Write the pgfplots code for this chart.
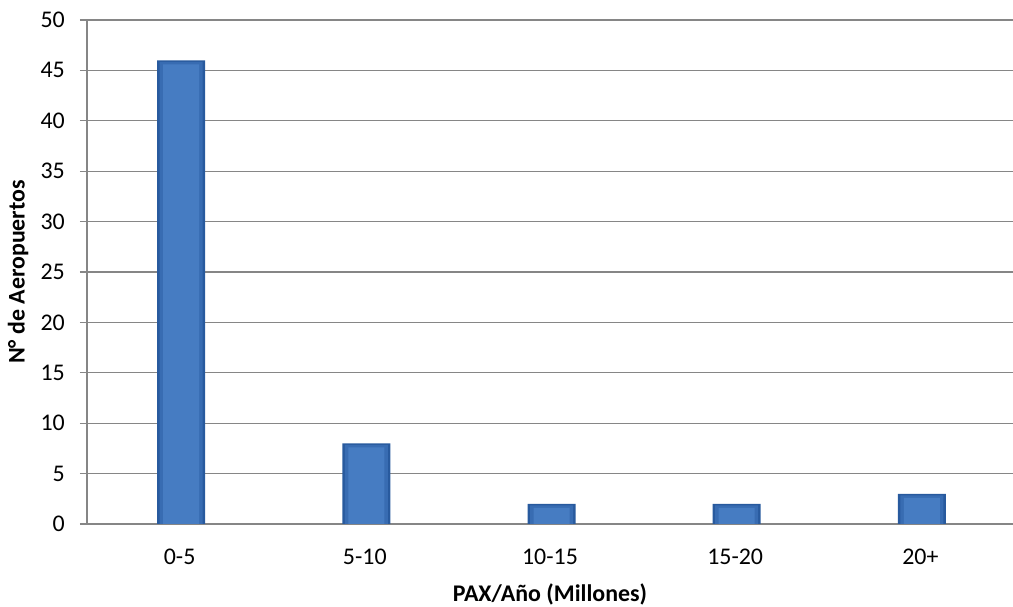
\documentclass[border=0pt]{standalone}
\usepackage{pgfplots}
\pgfplotsset{compat=1.18}
\usepackage{fontspec}
\setmainfont{Carlito}
\definecolor{gridgray}{RGB}{134,134,134}
\definecolor{bardark}{RGB}{40,90,158}
\definecolor{barmed}{RGB}{56,108,178}
\definecolor{barlight}{RGB}{70,124,194}
\newcommand{\cf}{\fontsize{24}{28}\selectfont}
\begin{document}
\begin{tikzpicture}
\useasboundingbox (0,0) rectangle (1013bp,607bp);
\begin{axis}[
  at={(87bp,83bp)}, anchor=south west,
  scale only axis,
  width=926bp, height=504bp,
  xmin=-0.5, xmax=4.5,
  ymin=0, ymax=50,
  ytick={0,5,...,50},
  xtick={0,1,2,3,4},
  xticklabels={{\cf 0-5},{\cf 5-10},{\cf 10-15},{\cf 15-20},{\cf 20+}},
  yticklabel={\cf\pgfmathprintnumber{\tick}},
  axis x line*=bottom, axis y line*=left,
  axis line style={gridgray, line width=1.2bp, -},
  ymajorgrids,
  major grid style={gridgray, line width=1.2bp},
  major tick length=7bp,
  ytick style={gridgray, line width=1.2bp},
  xtick style={draw=none},
  tick align=outside,
  ticklabel style={text=black},
  /pgf/number format/assume math mode=true,
  yticklabel style={inner sep=0pt, anchor=east, xshift=-15bp},
  xticklabel style={inner sep=0pt, anchor=north, yshift=-18bp},
  xlabel={\cf\bfseries PAX/Año (Millones)},
  ylabel={\cf\bfseries N° de Aeropuertos},
  xlabel style={at={(axis description cs:0.5,-0.1389)}, anchor=center, inner sep=0pt},
  ylabel style={at={(axis description cs:-0.0745,0.5)}, anchor=center, inner sep=0pt},
  ybar=0pt,
]
\addplot[draw=none, fill=bardark, bar width=48bp, bar shift=1.5bp]
  coordinates {(0,46) (1,8) (2,2) (3,2) (4,3)};
\addplot[draw=none, fill=barmed, bar width=43bp, bar shift=1.5bp]
  coordinates {(0,45.85) (1,7.85) (2,1.85) (3,1.85) (4,2.85)};
\addplot[draw=none, fill=barlight, bar width=36bp, bar shift=1.5bp]
  coordinates {(0,45.6) (1,7.6) (2,1.6) (3,1.6) (4,2.6)};
\end{axis}
\end{tikzpicture}
\end{document}
